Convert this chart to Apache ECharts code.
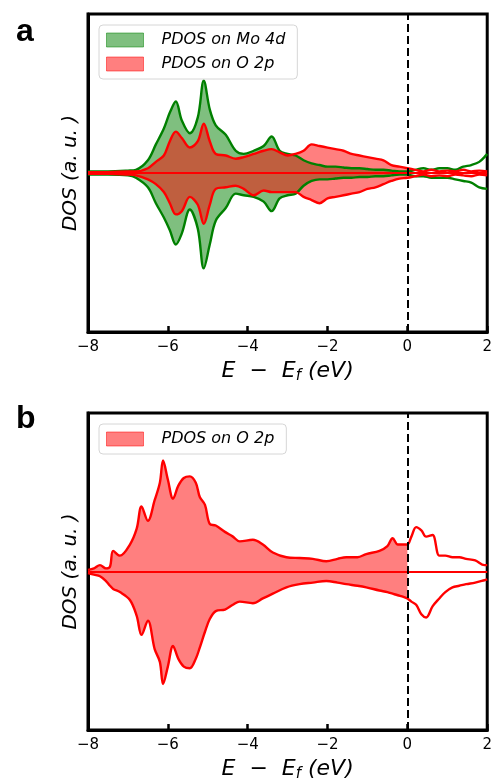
<!DOCTYPE html>
<html>
<head>
<meta charset="utf-8">
<script src="https://cdn.jsdelivr.net/npm/echarts@6/dist/echarts.min.js"></script>
<style>
  html, body { margin: 0; padding: 0; background: #fff; }
  #chart { width: 495px; height: 783px; }
</style>
</head>
<body>
<div id="chart"></div>
<script>
// Panel a: projected DOS on Mo 4d and O 2p (spin up positive, spin down negative)
const energyA = [-8, -7.5, -7.0, -6.8, -6.5, -6.3, -6.1, -5.95, -5.8, -5.65, -5.45, -5.25, -5.1, -4.95, -4.8, -4.55, -4.3, -4.1, -3.85, -3.6, -3.4, -3.2, -3.0, -2.8, -2.6, -2.4, -2.2, -2.0, -1.8, -1.6, -1.4, -1.2, -1.0, -0.8, -0.6, -0.4, -0.2, 0, 0.2, 0.4, 0.6, 0.8, 1.0, 1.2, 1.4, 1.6, 1.8, 2.0];
const moUpA = [0.01, 0.01, 0.015, 0.02, 0.08, 0.18, 0.28, 0.38, 0.45, 0.33, 0.25, 0.35, 0.58, 0.40, 0.30, 0.24, 0.14, 0.12, 0.14, 0.17, 0.23, 0.14, 0.12, 0.11, 0.08, 0.06, 0.05, 0.04, 0.04, 0.035, 0.03, 0.03, 0.025, 0.02, 0.02, 0.015, 0.01, 0.01, 0.02, 0.03, 0.02, 0.03, 0.03, 0.02, 0.04, 0.05, 0.07, 0.12];
const moDownA = [-0.01, -0.01, -0.015, -0.03, -0.09, -0.19, -0.28, -0.36, -0.45, -0.38, -0.23, -0.35, -0.60, -0.45, -0.30, -0.22, -0.13, -0.14, -0.15, -0.18, -0.24, -0.16, -0.14, -0.13, -0.08, -0.05, -0.04, -0.04, -0.035, -0.03, -0.03, -0.025, -0.025, -0.02, -0.02, -0.015, -0.01, -0.01, -0.02, -0.02, -0.03, -0.03, -0.03, -0.04, -0.05, -0.06, -0.09, -0.10];
const oUpA = [0.005, 0.005, 0.01, 0.01, 0.03, 0.07, 0.11, 0.20, 0.26, 0.22, 0.16, 0.20, 0.31, 0.20, 0.12, 0.11, 0.09, 0.10, 0.12, 0.14, 0.15, 0.13, 0.11, 0.12, 0.14, 0.18, 0.17, 0.16, 0.15, 0.14, 0.12, 0.11, 0.10, 0.09, 0.08, 0.05, 0.04, 0.03, 0.02, 0.01, 0.02, 0.01, 0.015, 0.01, 0.02, 0.01, 0.015, 0.01];
const oDownA = [-0.005, -0.005, -0.01, -0.015, -0.04, -0.07, -0.12, -0.19, -0.26, -0.24, -0.15, -0.20, -0.32, -0.20, -0.10, -0.09, -0.08, -0.10, -0.14, -0.11, -0.12, -0.12, -0.12, -0.12, -0.15, -0.17, -0.19, -0.16, -0.15, -0.14, -0.13, -0.12, -0.10, -0.09, -0.07, -0.05, -0.035, -0.03, -0.02, -0.01, -0.02, -0.015, -0.02, -0.01, -0.015, -0.02, -0.01, -0.015];

// Panel b: projected DOS on O 2p
const energyB = [-8, -7.85, -7.7, -7.55, -7.45, -7.37, -7.2, -6.95, -6.78, -6.66, -6.5, -6.33, -6.2, -6.12, -6.0, -5.87, -5.74, -5.6, -5.45, -5.3, -5.2, -5.07, -4.95, -4.8, -4.57, -4.37, -4.2, -3.87, -3.62, -3.37, -3.03, -2.7, -2.37, -2.03, -1.75, -1.53, -1.25, -1.03, -0.7, -0.5, -0.37, -0.24, -0.1, 0, 0.1, 0.22, 0.35, 0.47, 0.63, 0.8, 0.95, 1.13, 1.3, 1.47, 1.7, 1.93, 2.0];
const oUpB = [0.01, 0.02, 0.04, 0.02, 0.03, 0.13, 0.10, 0.17, 0.27, 0.41, 0.32, 0.45, 0.56, 0.70, 0.58, 0.46, 0.54, 0.59, 0.60, 0.56, 0.47, 0.42, 0.30, 0.29, 0.25, 0.22, 0.19, 0.20, 0.17, 0.12, 0.09, 0.085, 0.08, 0.065, 0.08, 0.09, 0.09, 0.11, 0.13, 0.16, 0.21, 0.17, 0.17, 0.17, 0.22, 0.28, 0.26, 0.22, 0.23, 0.10, 0.10, 0.09, 0.09, 0.08, 0.07, 0.04, 0.04];
const oDownB = [-0.01, -0.02, -0.03, -0.06, -0.09, -0.11, -0.13, -0.18, -0.28, -0.40, -0.31, -0.49, -0.57, -0.71, -0.60, -0.47, -0.55, -0.60, -0.61, -0.55, -0.48, -0.38, -0.30, -0.25, -0.24, -0.21, -0.19, -0.20, -0.17, -0.14, -0.10, -0.08, -0.07, -0.06, -0.07, -0.08, -0.09, -0.10, -0.12, -0.13, -0.14, -0.15, -0.16, -0.17, -0.19, -0.21, -0.27, -0.29, -0.22, -0.17, -0.13, -0.10, -0.09, -0.08, -0.07, -0.055, -0.05];

const xTicks = [-8, -6, -4, -2, 0, 2];
const fermiLevel = 0;

const MO_NAME = 'PDOS on Mo 4d';
const O_NAME = 'PDOS on O 2p';
const GREEN = '#008000';
const RED = '#ff0000';
const GREEN_FILL = 'rgba(0,128,0,0.5)';
const RED_FILL = 'rgba(255,0,0,0.5)';
const FONT = 'DejaVu Sans';

const pairs = (xs, ys) => xs.map((x, i) => [x, ys[i]]);
const occupied = (xs, ys) => pairs(xs, ys).filter(p => p[0] <= fermiLevel);

const SMOOTH = 0.35;

function areaSeries(name, idx, data, fill) {
  return {
    name, type: 'line', xAxisIndex: idx, yAxisIndex: idx, data,
    smooth: SMOOTH, showSymbol: false, silent: true,
    color: fill,
    lineStyle: { width: 0 },
    areaStyle: { color: fill, opacity: 1, origin: 0 }
  };
}
function lineSeries(idx, data, color) {
  return {
    type: 'line', xAxisIndex: idx, yAxisIndex: idx, data,
    smooth: SMOOTH, showSymbol: false, silent: true,
    lineStyle: { color, width: 2.4 }
  };
}
// red zero baseline
function baseLine() {
  return {
    silent: true, symbol: 'none', animation: false,
    label: { show: false },
    lineStyle: { color: RED, width: 2, type: 'solid' },
    data: [{ yAxis: 0 }]
  };
}
// dashed Fermi level marker
function fermiLine() {
  return {
    silent: true, symbol: 'none', animation: false,
    label: { show: false },
    lineStyle: { color: '#000', width: 2, type: [8, 4] },
    data: [{ xAxis: fermiLevel }]
  };
}

function xAxisCfg(idx) {
  return {
    type: 'value', gridIndex: idx, min: xTicks[0], max: xTicks[xTicks.length - 1], interval: 2,
    axisLine: { show: true, onZero: false, lineStyle: { color: '#000', width: 3 } },
    axisTick: { show: true, inside: true, length: 6, lineStyle: { color: '#000', width: 2.5 } },
    splitLine: { show: false },
    axisLabel: {
      color: '#000', fontFamily: FONT, fontSize: 15, margin: 8,
      showMinLabel: true, showMaxLabel: true,
      formatter: v => String(v).replace('-', '\u2212')
    },
    name: '{m|E  \u2212  E}{s|f}{m| (eV)}',
    nameLocation: 'middle', nameGap: 26,
    nameTextStyle: {
      rich: {
        m: { fontFamily: FONT, fontStyle: 'italic', fontSize: 22, color: '#000', lineHeight: 26 },
        s: { fontFamily: FONT, fontStyle: 'italic', fontSize: 15, color: '#000', lineHeight: 10, verticalAlign: 'bottom' }
      }
    }
  };
}
function yAxisCfg(idx) {
  return {
    type: 'value', gridIndex: idx, min: -1, max: 1,
    axisLine: { show: true, onZero: false, lineStyle: { color: '#000', width: 3 } },
    axisTick: { show: false }, axisLabel: { show: false }, splitLine: { show: false },
    name: 'DOS (a. u. )', nameLocation: 'middle', nameGap: 7, nameRotate: 90,
    nameTextStyle: { fontFamily: FONT, fontStyle: 'italic', fontSize: 20, color: '#000' }
  };
}

function legendCfg(top, names) {
  return {
    orient: 'vertical', left: 99, top,
    backgroundColor: '#fff', borderColor: '#d6d6d6', borderWidth: 1, borderRadius: 4,
    padding: [7, 12, 7, 7], itemGap: 8, itemWidth: 37, itemHeight: 14,
    selectedMode: false,
    textStyle: { fontFamily: FONT, fontStyle: 'italic', fontSize: 16, color: '#000', padding: [0, 0, 0, 13] },
    data: names.map(n => ({
      name: n, icon: 'rect',
      itemStyle: { color: n === MO_NAME ? GREEN_FILL : RED_FILL, borderColor: n === MO_NAME ? GREEN_FILL : RED_FILL, borderWidth: 1 }
    }))
  };
}

const oLineUpA = lineSeries(0, pairs(energyA, oUpA), RED);
oLineUpA.markLine = baseLine();
const oLineDownA = lineSeries(0, pairs(energyA, oDownA), RED);
oLineDownA.markLine = fermiLine();
const oLineUpB = lineSeries(1, pairs(energyB, oUpB), RED);
oLineUpB.markLine = baseLine();
const oLineDownB = lineSeries(1, pairs(energyB, oDownB), RED);
oLineDownB.markLine = fermiLine();

const option = {
  animation: false,
  backgroundColor: '#fff',
  title: [
    { text: 'a', left: 11, top: 11, textStyle: { fontFamily: 'Liberation Sans', fontWeight: 'bold', fontSize: 32, color: '#000' } },
    { text: 'b', left: 11, top: 398, textStyle: { fontFamily: 'Liberation Sans', fontWeight: 'bold', fontSize: 32, color: '#000' } }
  ],
  grid: [
    { left: 88, top: 14, width: 400, height: 318, show: true, borderColor: '#000', borderWidth: 3, backgroundColor: 'transparent' },
    { left: 88, top: 413, width: 400, height: 318, show: true, borderColor: '#000', borderWidth: 3, backgroundColor: 'transparent' }
  ],
  xAxis: [xAxisCfg(0), xAxisCfg(1)],
  yAxis: [yAxisCfg(0), yAxisCfg(1)],
  legend: [legendCfg(25, [MO_NAME, O_NAME]), legendCfg(424, [O_NAME])],
  series: [
    areaSeries(MO_NAME, 0, occupied(energyA, moUpA), GREEN_FILL),
    areaSeries(MO_NAME, 0, occupied(energyA, moDownA), GREEN_FILL),
    lineSeries(0, pairs(energyA, moUpA), GREEN),
    lineSeries(0, pairs(energyA, moDownA), GREEN),
    areaSeries(O_NAME, 0, occupied(energyA, oUpA), RED_FILL),
    areaSeries(O_NAME, 0, occupied(energyA, oDownA), RED_FILL),
    oLineUpA,
    oLineDownA,

    areaSeries(O_NAME, 1, occupied(energyB, oUpB), RED_FILL),
    areaSeries(O_NAME, 1, occupied(energyB, oDownB), RED_FILL),
    oLineUpB,
    oLineDownB
  ]
};

const chart = echarts.init(document.getElementById('chart'), null, { renderer: 'canvas' });
chart.setOption(option);
</script>
</body>
</html>
